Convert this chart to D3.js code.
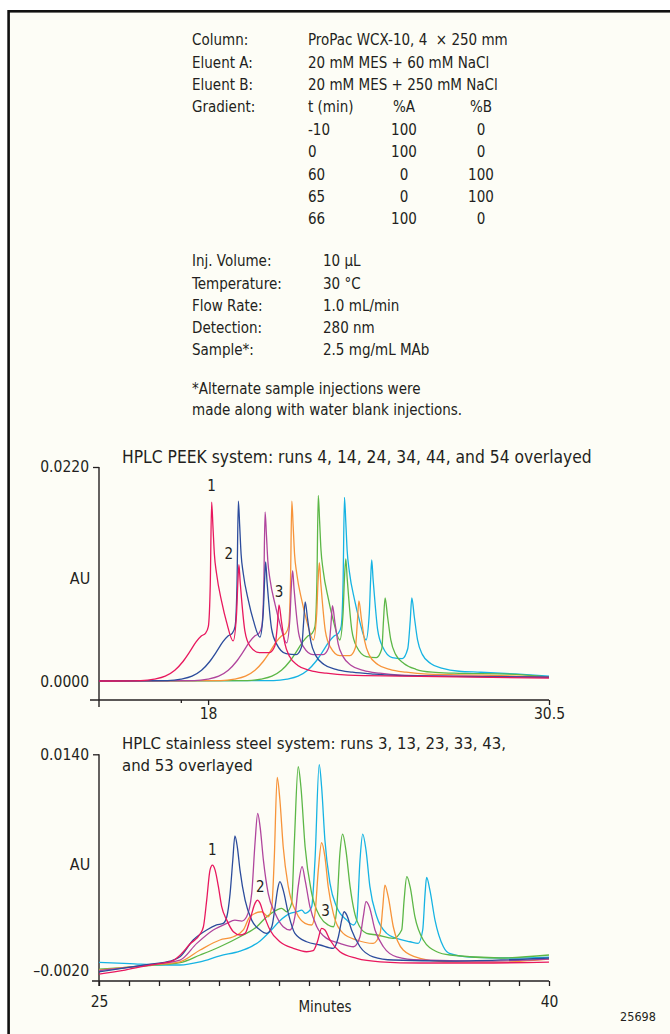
<!DOCTYPE html>
<html>
<head>
<meta charset="utf-8">
<script src="https://cdn.jsdelivr.net/npm/d3@7"></script>
<style>
  html, body { margin: 0; padding: 0; background: #ffffff; }
  svg { display: block; }
  text { font-family: "DejaVu Sans Condensed", "Liberation Sans", sans-serif; fill: #231f20; }
</style>
</head>
<body>
<svg id="chart" width="670" height="1034"></svg>
<script>
// ---------- method conditions ----------
const headerLabels = ["Column:", "Eluent A:", "Eluent B:", "Gradient:"];
const headerValues = ["ProPac WCX-10, 4 \u00a0\u00d7 250 mm", "20 mM MES + 60 mM NaCl", "20 mM MES + 250 mM NaCl"];
const gradientHead = ["t (min)", "%A", "%B"];
const gradientTime = ["-10", "0", "60", "65", "66"];
const gradientA = ["100", "100", "0", "0", "100"];
const gradientB = ["0", "0", "100", "100", "0"];
const condLabels = ["Inj. Volume:", "Temperature:", "Flow Rate:", "Detection:", "Sample*:"];
const condValues = ["10 \u00b5L", "30 \u00b0C", "1.0 mL/min", "280 nm", "2.5 mg/mL MAb"];
const footnote = ["*Alternate sample injections were", "made along with water blank injections."];

// ---------- PEEK system (minutes, AU) ----------
const peekTitle = "HPLC PEEK system: runs 4, 14, 24, 34, 44, and 54 overlayed";
const peekRuns = ["4", "14", "24", "34", "44", "54"];
const peekXTicks = [17, 18, 30.5];
const peekXLabels = ["", "18", "30.5"];
const peekYTicks = [0, 0.022];
const peekYLabels = ["0.0000", "0.0220"];
const peekPeakTimes = [18.13, 19.13, 20.60];   // peaks 1-3 of run 4

const peek4 = [[14.0,0.0001],[15.53,0.00015],[16.03,0.0003],[16.43,0.0006],[16.78,0.0012],[17.08,0.0021],[17.33,0.0031],[17.56,0.0041],[17.75,0.0047],[17.91,0.0050],[18.01,0.0057],[18.08,0.0100],[18.13,0.0184],[18.18,0.0158],[18.23,0.0131],[18.31,0.0111],[18.50,0.0082],[18.68,0.0061],[18.92,0.0042],[19.04,0.0068],[19.09,0.0101],[19.13,0.0120],[19.18,0.0101],[19.23,0.0084],[19.35,0.0052],[19.53,0.0037],[19.88,0.0030],[20.25,0.0030],[20.45,0.0037],[20.54,0.0058],[20.60,0.0079],[20.69,0.0062],[20.81,0.0040],[20.99,0.0026],[21.29,0.0017],[21.73,0.0012],[22.33,0.0009],[23.13,0.0007],[25.13,0.0006],[30.5,0.0004]];
const peek14 = [[14.0,0.0001],[16.51,0.00015],[17.01,0.0003],[17.41,0.0006],[17.76,0.0012],[18.06,0.0021],[18.31,0.0031],[18.54,0.0041],[18.73,0.0047],[18.89,0.0050],[18.99,0.0057],[19.06,0.0100],[19.11,0.0185],[19.16,0.0159],[19.21,0.0131],[19.29,0.0111],[19.48,0.0083],[19.66,0.0063],[19.90,0.0046],[20.02,0.0070],[20.07,0.0103],[20.11,0.0123],[20.16,0.0103],[20.21,0.0086],[20.33,0.0054],[20.51,0.0039],[20.86,0.0029],[21.23,0.0028],[21.43,0.0036],[21.50,0.0060],[21.56,0.0082],[21.65,0.0064],[21.77,0.0041],[21.95,0.0027],[22.25,0.0018],[22.69,0.0013],[23.29,0.0010],[24.09,0.0008],[26.09,0.0006],[30.5,0.0005]];
const peek24 = [[14.0,0.0001],[17.49,0.00015],[17.99,0.0003],[18.39,0.0006],[18.74,0.0012],[19.04,0.0021],[19.29,0.0031],[19.52,0.0041],[19.71,0.0047],[19.87,0.0050],[19.97,0.0057],[20.04,0.0095],[20.09,0.0174],[20.14,0.0150],[20.19,0.0124],[20.27,0.0105],[20.46,0.0079],[20.64,0.0059],[20.88,0.0040],[21.00,0.0065],[21.05,0.0096],[21.10,0.0114],[21.15,0.0096],[21.20,0.0080],[21.32,0.0050],[21.50,0.0036],[21.85,0.0028],[22.22,0.0028],[22.42,0.0035],[22.50,0.0057],[22.56,0.0078],[22.65,0.0061],[22.77,0.0039],[22.95,0.0026],[23.25,0.0017],[23.69,0.0012],[24.29,0.0009],[25.09,0.0007],[27.09,0.0006],[30.5,0.0005]];
const peek34 = [[14.0,0.0001],[18.47,0.00015],[18.97,0.0003],[19.37,0.0006],[19.72,0.0012],[20.02,0.0021],[20.27,0.0031],[20.50,0.0041],[20.69,0.0047],[20.85,0.0050],[20.95,0.0057],[21.02,0.0100],[21.07,0.0185],[21.12,0.0159],[21.17,0.0131],[21.25,0.0111],[21.44,0.0083],[21.62,0.0062],[21.86,0.0043],[21.98,0.0069],[22.03,0.0102],[22.08,0.0122],[22.13,0.0102],[22.18,0.0085],[22.30,0.0052],[22.48,0.0036],[22.83,0.0027],[23.20,0.0027],[23.40,0.0035],[23.47,0.0060],[23.53,0.0083],[23.62,0.0065],[23.74,0.0042],[23.92,0.0027],[24.22,0.0018],[24.66,0.0013],[25.26,0.0010],[26.06,0.0008],[28.06,0.0007],[30.5,0.0005]];
const peek44 = [[14.0,0.0001],[19.44,0.00015],[19.94,0.0003],[20.34,0.0006],[20.69,0.0012],[20.99,0.0021],[21.24,0.0031],[21.47,0.0041],[21.66,0.0047],[21.82,0.0050],[21.92,0.0057],[21.99,0.0103],[22.04,0.0191],[22.09,0.0164],[22.14,0.0135],[22.22,0.0114],[22.41,0.0085],[22.59,0.0063],[22.83,0.0043],[22.95,0.0071],[23.00,0.0106],[23.05,0.0126],[23.10,0.0106],[23.15,0.0088],[23.27,0.0053],[23.45,0.0036],[23.80,0.0026],[24.17,0.0025],[24.37,0.0034],[24.43,0.0062],[24.49,0.0086],[24.58,0.0067],[24.70,0.0043],[24.88,0.0028],[25.18,0.0019],[25.62,0.0013],[26.22,0.0010],[27.02,0.0009],[29.02,0.0008],[30.5,0.0005]];
const peek54 = [[14.0,0.0001],[20.40,0.00015],[20.90,0.0003],[21.30,0.0006],[21.65,0.0012],[21.95,0.0021],[22.20,0.0031],[22.43,0.0041],[22.62,0.0047],[22.78,0.0050],[22.88,0.0057],[22.95,0.0102],[23.00,0.0189],[23.05,0.0163],[23.10,0.0134],[23.18,0.0113],[23.37,0.0084],[23.55,0.0063],[23.79,0.0043],[23.91,0.0070],[23.96,0.0105],[24.00,0.0125],[24.05,0.0105],[24.10,0.0088],[24.22,0.0053],[24.40,0.0036],[24.75,0.0025],[25.12,0.0024],[25.32,0.0034],[25.41,0.0062],[25.47,0.0086],[25.56,0.0067],[25.68,0.0043],[25.86,0.0028],[26.16,0.0019],[26.60,0.0014],[27.20,0.0011],[28.00,0.0010],[29.40,0.0008],[30.5,0.0006]];

// ---------- stainless steel system (minutes, AU) ----------
const steelTitle = ["HPLC stainless steel system: runs 3, 13, 23, 33, 43,", "and 53 overlayed"];
const steelRuns = ["3", "13", "23", "33", "43", "53"];
const steelXTicks = d3.range(25, 41, 1);
const steelXLabels = { 25: "25", 40: "40" };
const steelYTicks = [-0.002, 0.014];
const steelYLabels = ["\u20130.0020", "0.0140"];
const steelPeakTimes = [28.78, 30.28, 32.42];  // peaks 1-3 of run 3

const steel3 = [[25.00,-0.00225],[25.87,-0.00195],[26.70,-0.00158],[27.47,-0.00125],[27.70,-0.00085],[28.03,-0.00003],[28.37,0.00071],[28.48,0.00125],[28.59,0.00322],[28.70,0.00544],[28.78,0.00581],[28.87,0.00544],[28.98,0.00421],[29.09,0.00273],[29.26,0.00174],[29.48,0.00088],[29.70,0.00064],[29.87,0.00076],[30.03,0.00174],[30.20,0.00298],[30.28,0.00322],[30.37,0.00298],[30.48,0.00224],[30.70,0.00101],[31.03,0.00014],[31.48,-0.00035],[31.92,-0.00060],[32.14,-0.00052],[32.28,0.00014],[32.42,0.00113],[32.53,0.00101],[32.70,0.00027],[33.03,-0.00060],[33.59,-0.00109],[34.37,-0.00134],[35.70,-0.00143],[37.70,-0.00143],[40.00,-0.00136]];
const steel13 = [[25.00,-0.00208],[26.70,-0.00151],[27.37,-0.00129],[27.70,-0.00097],[28.14,0.00027],[28.59,0.00101],[28.92,0.00138],[29.14,0.00150],[29.26,0.00199],[29.37,0.00372],[29.46,0.00618],[29.53,0.00796],[29.61,0.00716],[29.70,0.00544],[29.87,0.00322],[30.09,0.00174],[30.37,0.00101],[30.59,0.00076],[30.76,0.00125],[30.87,0.00273],[30.96,0.00409],[31.03,0.00458],[31.14,0.00396],[31.31,0.00224],[31.53,0.00076],[31.92,0.00014],[32.37,-0.00010],[32.81,-0.00035],[32.98,0.00051],[33.09,0.00174],[33.17,0.00236],[33.26,0.00211],[33.42,0.00101],[33.70,-0.00023],[34.14,-0.00097],[34.81,-0.00121],[36.70,-0.00129],[40.00,-0.00106]];
const steel23 = [[25.00,-0.00199],[26.70,-0.00155],[27.70,-0.00121],[28.26,0.00002],[28.81,0.00101],[29.26,0.00150],[29.53,0.00174],[29.76,0.00167],[29.92,0.00199],[30.09,0.00372],[30.20,0.00742],[30.29,0.00963],[30.37,0.00864],[30.48,0.00618],[30.64,0.00372],[30.87,0.00224],[31.14,0.00125],[31.37,0.00101],[31.53,0.00199],[31.64,0.00421],[31.77,0.00569],[31.87,0.00470],[32.03,0.00273],[32.26,0.00125],[32.59,0.00039],[33.03,0.00002],[33.48,-0.00023],[33.70,0.00051],[33.81,0.00199],[33.90,0.00310],[34.01,0.00273],[34.20,0.00101],[34.48,-0.00023],[34.92,-0.00097],[35.70,-0.00121],[37.70,-0.00129],[40.00,-0.00114]];
const steel33 = [[25.00,-0.00195],[26.70,-0.00158],[27.70,-0.00134],[28.37,-0.00047],[29.03,0.00027],[29.48,0.00051],[29.81,0.00101],[30.03,0.00199],[30.42,0.00236],[30.64,0.00199],[30.76,0.00273],[30.84,0.00618],[30.94,0.01230],[31.03,0.01062],[31.14,0.00716],[31.31,0.00421],[31.59,0.00224],[31.87,0.00150],[32.09,0.00138],[32.20,0.00224],[32.31,0.00544],[32.42,0.00746],[32.53,0.00643],[32.64,0.00421],[32.81,0.00224],[33.14,0.00076],[33.59,0.00027],[34.14,0.00002],[34.37,0.00076],[34.46,0.00273],[34.53,0.00433],[34.64,0.00347],[34.81,0.00125],[35.14,-0.00047],[35.70,-0.00109],[36.48,-0.00134],[38.37,-0.00136],[40.00,-0.00114]];
const steel43 = [[25.00,-0.00188],[26.70,-0.00162],[27.70,-0.00141],[28.37,-0.00084],[29.03,-0.00023],[29.70,0.00051],[30.26,0.00125],[30.59,0.00199],[30.92,0.00248],[31.09,0.00261],[31.26,0.00236],[31.42,0.00298],[31.51,0.00742],[31.64,0.01308],[31.73,0.01160],[31.87,0.00716],[32.09,0.00372],[32.37,0.00199],[32.64,0.00138],[32.81,0.00125],[32.92,0.00248],[33.03,0.00668],[33.12,0.00810],[33.23,0.00692],[33.37,0.00421],[33.59,0.00174],[33.92,0.00076],[34.26,0.00064],[34.81,0.00039],[35.09,0.00101],[35.17,0.00322],[35.26,0.00495],[35.37,0.00421],[35.53,0.00199],[35.81,0.00027],[36.26,-0.00060],[36.70,-0.00084],[38.37,-0.00106],[40.00,-0.00084]];
const steel53 = [[25.00,-0.00138],[26.03,-0.00147],[27.03,-0.00158],[27.70,-0.00158],[28.37,-0.00135],[29.03,-0.00090],[29.70,-0.00055],[30.09,-0.00020],[30.37,0.00020],[30.70,0.00090],[31.03,0.00170],[31.37,0.00224],[31.59,0.00236],[31.76,0.00248],[31.87,0.00224],[31.98,0.00236],[32.09,0.00273],[32.20,0.00618],[32.34,0.01323],[32.42,0.01160],[32.53,0.00766],[32.70,0.00446],[32.92,0.00273],[33.26,0.00174],[33.48,0.00138],[33.59,0.00174],[33.70,0.00618],[33.79,0.00810],[33.90,0.00692],[34.03,0.00421],[34.26,0.00199],[34.59,0.00076],[34.92,0.00039],[35.37,0.00014],[35.64,0.00002],[35.79,0.00101],[35.87,0.00372],[35.92,0.00490],[36.03,0.00396],[36.20,0.00174],[36.48,-0.00023],[36.68,-0.00072],[37.37,-0.00099],[38.70,-0.00106],[40.00,-0.00099]];

const runColors = ["#e8185e", "#2c4c9c", "#b0459d", "#f7943a", "#5cb747", "#16b3e3"];
const peakLabels = ["1", "2", "3"];

// ---------- drawing ----------
const svg = d3.select("#chart");
const ink = "#231f20";

// framed panel
svg.append("rect")
  .attr("x", 8.6).attr("y", 11.3).attr("width", 700).attr("height", 1060)
  .attr("fill", "#fdfdf6").attr("stroke", "#111").attr("stroke-width", 2.6);

function txt(x, y, s, anchor, size) {
  return svg.append("text").attr("x", x).attr("y", y).attr("dy", "0.35em")
    .attr("text-anchor", anchor || "start").attr("font-size", size || 15).text(s);
}

// method block
const rowY = i => 40 + i * 22.4;
headerLabels.forEach((s, i) => txt(192, rowY(i), s));
headerValues.forEach((s, i) => txt(308, rowY(i), s));
txt(308, rowY(3), gradientHead[0]);
txt(404, rowY(3), gradientHead[1], "middle");
txt(481, rowY(3), gradientHead[2], "middle");
gradientTime.forEach((s, i) => {
  txt(308, rowY(4 + i), s);
  txt(404, rowY(4 + i), gradientA[i], "middle");
  txt(481, rowY(4 + i), gradientB[i], "middle");
});
condLabels.forEach((s, i) => txt(192, 261 + i * 22.3, s));
condValues.forEach((s, i) => txt(323, 261 + i * 22.3, s));
footnote.forEach((s, i) => txt(192, 389 + i * 21, s));

const pointAt = (series, t) => series.find(d => d[0] === t);

function drawPanel(cfg) {
  const { x, y, series, xAxisY } = cfg;
  const g = svg.append("g");
  const x0 = x.range()[0];

  // y axis: line from the top tick down past the x axis
  g.append("line").attr("x1", x0).attr("x2", x0)
    .attr("y1", y(cfg.yTicks[1])).attr("y2", xAxisY + cfg.yAxisOverhang)
    .attr("stroke", ink).attr("stroke-width", 1.4);
  const ya = g.append("g").attr("transform", `translate(${x0},0)`)
    .call(d3.axisLeft(y).tickValues(cfg.yTicks)
      .tickFormat((d, i) => cfg.yLabels[i]).tickSize(6).tickPadding(4));
  ya.select(".domain").remove();
  ya.selectAll(".tick line").attr("stroke", ink).attr("stroke-width", 1.3)
    .attr("opacity", (d, i) => i === 0 ? 0 : 1);
  ya.selectAll(".tick text").attr("font-size", 15.5).attr("font-family", null).attr("fill", ink);

  // x axis
  g.append("line").attr("x1", cfg.xAxisStart).attr("x2", x.range()[1])
    .attr("y1", xAxisY).attr("y2", xAxisY)
    .attr("stroke", ink).attr("stroke-width", 1.4);
  const xa = g.append("g").attr("transform", `translate(0,${xAxisY})`)
    .call(d3.axisBottom(x).tickValues(cfg.xTicks)
      .tickFormat(cfg.xLabels).tickSize(5).tickPadding(cfg.xPad));
  xa.select(".domain").remove();
  xa.selectAll(".tick line").attr("stroke", ink).attr("stroke-width", 1.3)
    .attr("y2", d => cfg.shortTicks.includes(d) ? 3 : 5);
  xa.selectAll(".tick text").attr("font-size", 15.5).attr("font-family", null).attr("fill", ink);

  // traces, first run drawn last so it sits on top
  const line = d3.line().x(d => x(d[0])).y(d => y(d[1])).curve(d3.curveMonotoneX);
  for (let i = series.length - 1; i >= 0; i--) {
    g.append("path").datum(series[i]).attr("d", line)
      .attr("fill", "none").attr("stroke", runColors[i])
      .attr("stroke-width", 1.3).attr("stroke-linejoin", "round");
  }

  // peak numbers over the first run
  cfg.peakTimes.forEach((t, i) => {
    const p = pointAt(series[0], t);
    const [dx, up] = cfg.labelOffsets[i];
    g.append("text").attr("x", x(p[0]) + dx).attr("y", y(p[1]) - up).attr("dy", "0.35em")
      .attr("text-anchor", "middle").attr("font-size", 15).text(peakLabels[i]);
  });

  txt(80, cfg.auY, "AU", "middle", 16);
}

// PEEK panel
const xPeek = d3.scaleLinear().domain([14, 30.5]).range([99, 549]);
const yPeek = d3.scaleLinear().domain([0, 0.022]).range([682, 467]);
txt(122, 456.5, peekTitle, "start", 17.3);
drawPanel({
  x: xPeek, y: yPeek,
  series: [peek4, peek14, peek24, peek34, peek44, peek54],
  xAxisY: 700, yAxisOverhang: 7, xAxisStart: 90,
  yTicks: peekYTicks, yLabels: peekYLabels,
  xTicks: peekXTicks, xLabels: (d, i) => peekXLabels[i], xPad: 3, shortTicks: [17],
  peakTimes: peekPeakTimes, labelOffsets: [[0, 16], [-10, 11], [0, 13]],
  auY: 578
});

// stainless steel panel
const xSteel = d3.scaleLinear().domain([25, 40]).range([99, 549]);
const ySteel = d3.scaleLinear().domain([-0.002, 0.014]).range([970.7, 754.3]);
steelTitle.forEach((s, i) => txt(122, 743 + i * 22, s, "start", 16.6));
drawPanel({
  x: xSteel, y: ySteel,
  series: [steel3, steel13, steel23, steel33, steel43, steel53],
  xAxisY: 981, yAxisOverhang: 5, xAxisStart: 92,
  yTicks: steelYTicks, yLabels: steelYLabels,
  xTicks: steelXTicks, xLabels: d => steelXLabels[d] || "", xPad: 10, shortTicks: [],
  peakTimes: steelPeakTimes, labelOffsets: [[0, 15], [3, 13], [4, 18]],
  auY: 864
});

txt(325, 1007, "Minutes", "middle", 15);
txt(638, 1017, "25698", "middle", 12.5);
</script>
</body>
</html>
